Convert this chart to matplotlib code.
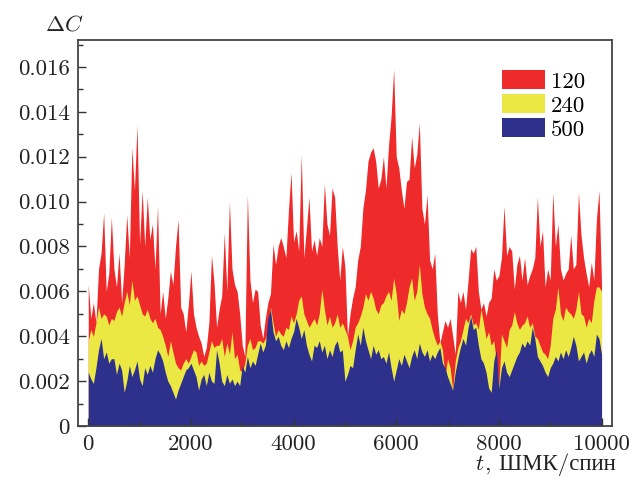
import numpy as np
import matplotlib
matplotlib.use("Agg")
import matplotlib.pyplot as plt
from matplotlib.ticker import MultipleLocator, FuncFormatter
from matplotlib.patches import Patch

plt.rcParams['mathtext.fontset'] = 'cm'
plt.rcParams['font.family'] = ['cmr10', 'Liberation Serif', 'DejaVu Serif']
plt.rcParams['axes.formatter.use_mathtext'] = True

# time axis (ШМК/спин)
t = np.arange(0, 10001, 50)

# Delta C values (x1e-3) for the three system sizes
red_120 = [
    6.3, 4.8, 5.5, 4.6, 7.0, 7.7, 9.5, 6.0, 6.8, 9.3,
    7.0, 6.2, 7.7, 5.5, 7.2, 9.4, 7.5, 12.4, 10.5, 13.4,
    8.1, 10.5, 8.0, 10.2, 8.3, 9.0, 7.0, 9.8, 5.0, 6.0,
    4.8, 5.7, 6.9, 6.3, 8.0, 9.2, 5.3, 5.0, 4.2, 5.4,
    6.9, 5.0, 4.4, 4.0, 3.7, 3.1, 3.5, 4.6, 7.6, 6.4,
    4.4, 5.2, 5.8, 8.6, 6.0, 10.0, 7.0, 6.3, 6.0, 5.0,
    3.6, 3.1, 10.3, 6.5, 5.5, 6.1, 6.0, 4.5, 3.9, 4.8,
    5.5, 5.9, 8.1, 7.2, 8.0, 8.4, 8.0, 7.5, 9.6, 11.3,
    8.2, 8.7, 7.8, 12.1, 7.5, 8.8, 10.2, 7.8, 8.3, 7.6,
    8.4, 8.0, 10.8, 9.0, 8.5, 10.6, 10.2, 8.0, 6.5, 8.0,
    7.1, 4.0, 5.0, 5.7, 6.2, 7.4, 8.0, 9.7, 10.5, 11.8,
    12.2, 12.4, 11.8, 10.6, 11.0, 12.0, 10.6, 12.5, 13.8, 15.9,
    12.0, 11.5, 10.5, 9.7, 10.9, 11.0, 12.9, 11.5, 12.1, 13.5,
    9.7, 9.0, 10.3, 7.4, 7.0, 7.7, 5.0, 3.7, 4.2, 4.7,
    4.4, 4.8, 4.0, 3.2, 6.0, 5.5, 6.0, 5.2, 6.5, 7.9,
    7.7, 8.0, 6.0, 5.2, 5.5, 4.9, 5.5, 5.7, 7.0, 6.5,
    6.7, 7.5, 9.8, 7.6, 8.0, 7.8, 6.1, 7.2, 7.6, 6.5,
    7.5, 6.3, 6.7, 7.0, 7.5, 10.2, 8.0, 8.7, 6.2, 7.0,
    6.5, 10.4, 8.0, 9.0, 7.0, 6.5, 6.8, 7.0, 8.5, 7.0,
    7.2, 10.4, 8.5, 7.5, 6.8, 6.2, 7.3, 6.5, 9.2, 10.5,
    6.3,
]
yellow_240 = [
    3.8, 4.3, 4.0, 4.6, 5.3, 4.8, 5.0, 4.9, 4.5, 4.8,
    4.7, 5.1, 5.3, 4.9, 5.5, 6.0, 5.4, 6.5, 5.6, 5.8,
    5.4, 5.0, 4.9, 5.2, 4.8, 4.6, 4.8, 4.4, 4.3, 4.0,
    3.6, 3.1, 3.8, 3.3, 2.8, 2.6, 2.5, 2.8, 3.0, 2.8,
    3.1, 3.4, 3.3, 2.7, 2.9, 2.7, 2.8, 3.3, 3.8, 3.5,
    3.6, 3.6, 3.9, 3.1, 3.7, 3.2, 4.2, 3.0, 3.2, 2.5,
    2.4, 2.8, 3.6, 3.9, 3.4, 3.5, 3.8, 3.8, 3.7, 3.9,
    4.2, 5.3, 4.6, 4.0, 4.3, 4.1, 4.0, 4.4, 4.3, 4.9,
    4.6, 5.0, 5.6, 5.8, 5.0, 4.7, 4.4, 4.6, 4.8, 4.5,
    5.0, 6.1, 5.2, 4.5, 4.9, 4.4, 4.6, 5.0, 4.4, 4.6,
    4.3, 4.0, 3.4, 3.8, 4.4, 4.6, 4.9, 5.3, 5.9, 5.6,
    6.0, 5.7, 5.2, 5.0, 5.4, 5.5, 5.8, 6.0, 5.6, 6.6,
    5.9, 4.7, 5.2, 5.0, 5.5, 6.2, 6.6, 5.6, 6.0, 7.2,
    5.9, 5.3, 5.0, 4.8, 4.3, 3.9, 3.6, 3.8, 3.4, 2.2,
    3.0, 2.6, 1.6, 2.9, 3.5, 3.8, 4.3, 4.8, 4.6, 5.0,
    4.5, 4.6, 4.3, 5.2, 4.6, 3.9, 4.2, 3.6, 3.8, 2.9,
    1.8, 4.1, 3.8, 3.5, 4.3, 4.5, 5.1, 4.6, 4.3, 4.5,
    4.6, 4.9, 4.4, 4.6, 4.0, 3.9, 3.6, 3.3, 3.2, 3.0,
    3.6, 4.8, 5.2, 6.2, 5.0, 4.7, 5.3, 5.1, 5.0, 4.8,
    5.2, 6.0, 5.0, 4.9, 4.4, 4.8, 4.6, 5.6, 6.2, 6.2,
    6.0,
]
blue_500 = [
    2.4, 2.1, 1.9, 2.6, 3.4, 3.9, 3.0, 3.3, 2.8, 3.0,
    3.0, 2.3, 2.8, 2.5, 1.5, 2.0, 2.7, 2.2, 2.5, 2.9,
    2.1, 1.8, 2.6, 2.3, 2.7, 2.4, 3.0, 3.4, 3.2, 2.9,
    2.4, 2.0, 1.8, 1.5, 1.2, 1.6, 1.9, 2.2, 2.5, 2.6,
    2.8, 2.5, 2.2, 1.6, 2.1, 2.3, 1.8, 2.4, 2.0, 1.9,
    3.4, 2.8, 2.0, 1.8, 2.3, 1.9, 2.1, 1.8, 2.0, 1.8,
    2.7, 2.4, 3.1, 2.6, 2.9, 2.7, 3.2, 3.7, 3.3, 3.6,
    4.8, 5.2, 4.2, 3.8, 4.0, 3.6, 3.4, 3.8, 3.5, 3.9,
    4.2, 4.8, 4.4, 3.9, 4.3, 3.6, 3.2, 2.9, 3.6, 3.5,
    3.8, 3.3, 3.6, 3.0, 3.4, 3.1, 3.6, 3.8, 3.3, 3.4,
    2.0, 2.3, 2.7, 2.6, 3.4, 4.1, 3.6, 4.4, 3.8, 3.4,
    3.0, 3.6, 3.2, 3.4, 3.0, 3.1, 2.8, 3.3, 2.6, 2.0,
    2.5, 3.0, 2.7, 3.2, 2.9, 2.6, 3.1, 3.4, 3.0, 3.7,
    3.3, 3.1, 3.4, 2.9, 3.2, 3.0, 3.3, 3.5, 2.8, 2.6,
    2.2, 1.9, 1.6, 2.4, 3.0, 3.5, 3.9, 3.6, 4.4, 4.9,
    4.3, 4.4, 3.6, 3.0, 2.8, 2.4, 1.7, 1.5, 2.9, 3.4,
    1.7, 2.6, 2.9, 2.4, 2.2, 2.5, 2.8, 3.1, 3.3, 3.7,
    3.5, 3.8, 3.6, 4.4, 3.9, 3.1, 2.9, 2.7, 2.4, 2.2,
    2.6, 2.8, 3.1, 2.9, 3.3, 3.0, 3.4, 3.1, 3.5, 4.0,
    3.6, 2.9, 3.1, 3.3, 2.8, 3.2, 3.4, 3.1, 4.1, 3.9,
    3.2,
]
labels = ['120', '240', '500']
colors = ['#ee2a2a', '#ece843', '#2e318c']

series = [np.array(red_120) * 1e-3, np.array(yellow_240) * 1e-3, np.array(blue_500) * 1e-3]

fig = plt.figure(figsize=(6.34, 4.88), dpi=100)
ax = fig.add_axes([0.123, 0.127, 0.842, 0.791])

for y, c in zip(series, colors):
    ax.fill_between(t, 0, y, color=c, linewidth=0)

ax.set_xlim(-200, 10200)
ax.set_ylim(0, 0.0172)

ax.xaxis.set_major_locator(MultipleLocator(2000))
ax.xaxis.set_minor_locator(MultipleLocator(1000))
ax.yaxis.set_major_locator(MultipleLocator(0.002))
ax.yaxis.set_minor_locator(MultipleLocator(0.001))
ax.xaxis.set_major_formatter(FuncFormatter(lambda v, p: f"{int(round(v))}"))
ax.yaxis.set_major_formatter(FuncFormatter(lambda v, p: "0" if abs(v) < 1e-12 else f"{v:.3f}"))

ax.tick_params(which='both', direction='in', top=False, right=False,
               color='#333333', width=1.0)
ax.tick_params(which='major', length=6, labelsize=16.5, pad=6, labelcolor='#222222')
ax.tick_params(which='minor', length=3.5)
for s in ax.spines.values():
    s.set_linewidth(1.3)
    s.set_color('#444444')

fig.text(0.071, 0.950, r'$\Delta C$', fontsize=16.5, ha='left', va='center', color='#222222')

# x-axis label: italic t (mathtext) + Cyrillic units (regular font with fallback)
units = fig.text(0.972, 0.036, ', ШМК/спин', fontsize=16.5, ha='right', va='baseline',
                 color='#222222')
fig.canvas.draw()
bb = units.get_window_extent()
tx, ty = fig.transFigure.inverted().transform((bb.x0, 0))
fig.text(tx - 0.001, 0.036, r'$t$', fontsize=16.5, ha='right', va='baseline', color='#222222')

handles = [Patch(facecolor=c, edgecolor='none') for c in colors]
ax.legend(handles, labels, loc='upper left', bbox_to_anchor=(0.795, 0.922),
          frameon=False, fontsize=16.5, handlelength=1.85, handleheight=0.9,
          handletextpad=0.25, labelspacing=0.12, borderpad=0, borderaxespad=0)

fig.savefig('out.png', dpi=100)
